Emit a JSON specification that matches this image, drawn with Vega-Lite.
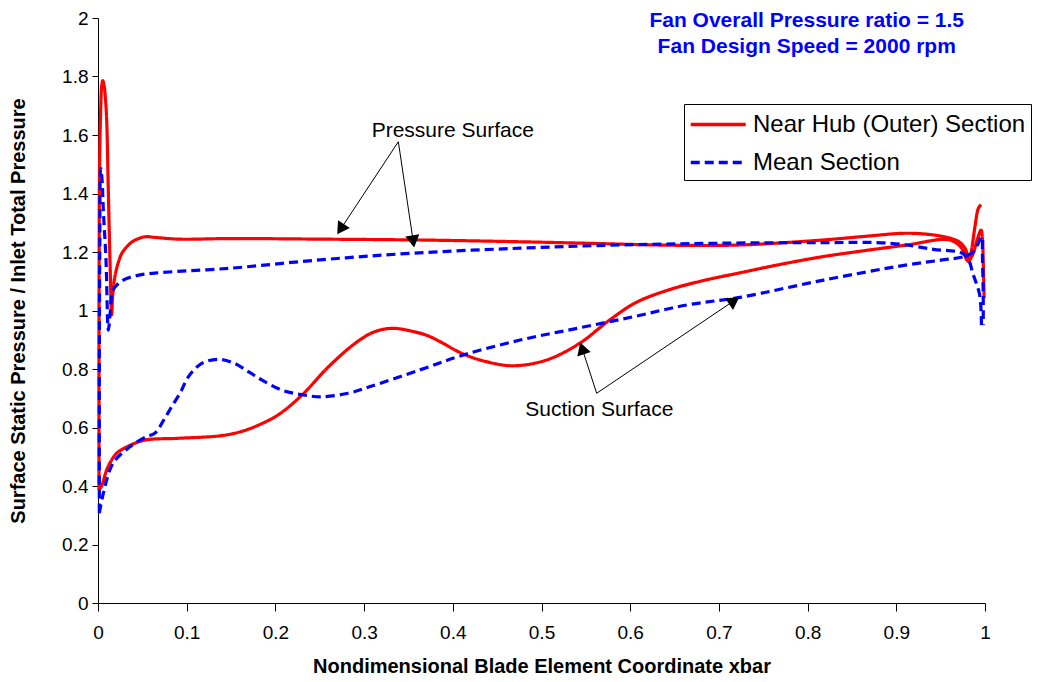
{
  "$schema": "https://vega.github.io/schema/vega-lite/v6.json",
  "width": 887,
  "height": 585,
  "autosize": {"type": "none"},
  "padding": {"left": 98, "top": 18, "right": 53, "bottom": 79},
  "background": "white",
  "config": {
    "view": {"stroke": null},
    "font": "Liberation Sans",
    "axis": {
      "grid": false,
      "domainColor": "#000000",
      "tickColor": "#000000",
      "labelColor": "#000000",
      "titleColor": "#000000",
      "labelFont": "Liberation Sans",
      "titleFont": "Liberation Sans",
      "labelFontSize": 19,
      "titleFontSize": 20,
      "titleFontWeight": "bold",
      "labelFlush": false,
      "labelOverlap": false,
      "labelBound": false
    }
  },
  "datasets": {
    "curves": [
      {"s": "Near Hub (Outer) Section", "f": "P", "i": 1, "x": 0.0011, "y": 0.386},
      {"s": "Near Hub (Outer) Section", "f": "P", "i": 2, "x": 0.0011, "y": 0.8},
      {"s": "Near Hub (Outer) Section", "f": "P", "i": 3, "x": 0.0013, "y": 1.2},
      {"s": "Near Hub (Outer) Section", "f": "P", "i": 4, "x": 0.0018, "y": 1.5},
      {"s": "Near Hub (Outer) Section", "f": "P", "i": 5, "x": 0.003, "y": 1.685},
      {"s": "Near Hub (Outer) Section", "f": "P", "i": 6, "x": 0.0042, "y": 1.77},
      {"s": "Near Hub (Outer) Section", "f": "P", "i": 7, "x": 0.0053, "y": 1.786},
      {"s": "Near Hub (Outer) Section", "f": "P", "i": 8, "x": 0.0068, "y": 1.77},
      {"s": "Near Hub (Outer) Section", "f": "P", "i": 9, "x": 0.0085, "y": 1.72},
      {"s": "Near Hub (Outer) Section", "f": "P", "i": 10, "x": 0.0098, "y": 1.65},
      {"s": "Near Hub (Outer) Section", "f": "P", "i": 11, "x": 0.0117, "y": 1.4},
      {"s": "Near Hub (Outer) Section", "f": "P", "i": 12, "x": 0.0135, "y": 1.173},
      {"s": "Near Hub (Outer) Section", "f": "P", "i": 13, "x": 0.0154, "y": 0.985},
      {"s": "Near Hub (Outer) Section", "f": "P", "i": 14, "x": 0.0165, "y": 1.05},
      {"s": "Near Hub (Outer) Section", "f": "P", "i": 15, "x": 0.019, "y": 1.116},
      {"s": "Near Hub (Outer) Section", "f": "P", "i": 16, "x": 0.023, "y": 1.165},
      {"s": "Near Hub (Outer) Section", "f": "P", "i": 17, "x": 0.027, "y": 1.196},
      {"s": "Near Hub (Outer) Section", "f": "P", "i": 18, "x": 0.035, "y": 1.226},
      {"s": "Near Hub (Outer) Section", "f": "P", "i": 19, "x": 0.042, "y": 1.241},
      {"s": "Near Hub (Outer) Section", "f": "P", "i": 20, "x": 0.053, "y": 1.252},
      {"s": "Near Hub (Outer) Section", "f": "P", "i": 21, "x": 0.064, "y": 1.25},
      {"s": "Near Hub (Outer) Section", "f": "P", "i": 22, "x": 0.09, "y": 1.244},
      {"s": "Near Hub (Outer) Section", "f": "P", "i": 23, "x": 0.15, "y": 1.246},
      {"s": "Near Hub (Outer) Section", "f": "P", "i": 24, "x": 0.25, "y": 1.244},
      {"s": "Near Hub (Outer) Section", "f": "P", "i": 25, "x": 0.363, "y": 1.241},
      {"s": "Near Hub (Outer) Section", "f": "P", "i": 26, "x": 0.476, "y": 1.235},
      {"s": "Near Hub (Outer) Section", "f": "P", "i": 27, "x": 0.55, "y": 1.23},
      {"s": "Near Hub (Outer) Section", "f": "P", "i": 28, "x": 0.65, "y": 1.223},
      {"s": "Near Hub (Outer) Section", "f": "P", "i": 29, "x": 0.724, "y": 1.224},
      {"s": "Near Hub (Outer) Section", "f": "P", "i": 30, "x": 0.817, "y": 1.241},
      {"s": "Near Hub (Outer) Section", "f": "P", "i": 31, "x": 0.87, "y": 1.255},
      {"s": "Near Hub (Outer) Section", "f": "P", "i": 32, "x": 0.908, "y": 1.264},
      {"s": "Near Hub (Outer) Section", "f": "P", "i": 33, "x": 0.93, "y": 1.262},
      {"s": "Near Hub (Outer) Section", "f": "P", "i": 34, "x": 0.949, "y": 1.255},
      {"s": "Near Hub (Outer) Section", "f": "P", "i": 35, "x": 0.965, "y": 1.243},
      {"s": "Near Hub (Outer) Section", "f": "P", "i": 36, "x": 0.972, "y": 1.232},
      {"s": "Near Hub (Outer) Section", "f": "P", "i": 37, "x": 0.978, "y": 1.21},
      {"s": "Near Hub (Outer) Section", "f": "P", "i": 38, "x": 0.982, "y": 1.175},
      {"s": "Near Hub (Outer) Section", "f": "P", "i": 39, "x": 0.986, "y": 1.19},
      {"s": "Near Hub (Outer) Section", "f": "P", "i": 40, "x": 0.991, "y": 1.24},
      {"s": "Near Hub (Outer) Section", "f": "P", "i": 41, "x": 0.9955, "y": 1.275},
      {"s": "Near Hub (Outer) Section", "f": "P", "i": 42, "x": 0.997, "y": 1.25},
      {"s": "Near Hub (Outer) Section", "f": "P", "i": 43, "x": 0.998, "y": 1.167},
      {"s": "Near Hub (Outer) Section", "f": "P", "i": 44, "x": 0.999, "y": 1.043},
      {"s": "Near Hub (Outer) Section", "f": "S", "i": 1, "x": 0.0011, "y": 0.386},
      {"s": "Near Hub (Outer) Section", "f": "S", "i": 2, "x": 0.004, "y": 0.4},
      {"s": "Near Hub (Outer) Section", "f": "S", "i": 3, "x": 0.0098, "y": 0.455},
      {"s": "Near Hub (Outer) Section", "f": "S", "i": 4, "x": 0.015, "y": 0.487},
      {"s": "Near Hub (Outer) Section", "f": "S", "i": 5, "x": 0.021, "y": 0.512},
      {"s": "Near Hub (Outer) Section", "f": "S", "i": 6, "x": 0.034, "y": 0.536},
      {"s": "Near Hub (Outer) Section", "f": "S", "i": 7, "x": 0.053, "y": 0.557},
      {"s": "Near Hub (Outer) Section", "f": "S", "i": 8, "x": 0.09, "y": 0.563},
      {"s": "Near Hub (Outer) Section", "f": "S", "i": 9, "x": 0.139, "y": 0.572},
      {"s": "Near Hub (Outer) Section", "f": "S", "i": 10, "x": 0.16, "y": 0.585},
      {"s": "Near Hub (Outer) Section", "f": "S", "i": 11, "x": 0.177, "y": 0.603},
      {"s": "Near Hub (Outer) Section", "f": "S", "i": 12, "x": 0.203, "y": 0.643},
      {"s": "Near Hub (Outer) Section", "f": "S", "i": 13, "x": 0.23, "y": 0.711},
      {"s": "Near Hub (Outer) Section", "f": "S", "i": 14, "x": 0.26, "y": 0.808},
      {"s": "Near Hub (Outer) Section", "f": "S", "i": 15, "x": 0.29, "y": 0.888},
      {"s": "Near Hub (Outer) Section", "f": "S", "i": 16, "x": 0.31, "y": 0.925},
      {"s": "Near Hub (Outer) Section", "f": "S", "i": 17, "x": 0.331, "y": 0.939},
      {"s": "Near Hub (Outer) Section", "f": "S", "i": 18, "x": 0.357, "y": 0.927},
      {"s": "Near Hub (Outer) Section", "f": "S", "i": 19, "x": 0.374, "y": 0.911},
      {"s": "Near Hub (Outer) Section", "f": "S", "i": 20, "x": 0.412, "y": 0.851},
      {"s": "Near Hub (Outer) Section", "f": "S", "i": 21, "x": 0.438, "y": 0.825},
      {"s": "Near Hub (Outer) Section", "f": "S", "i": 22, "x": 0.468, "y": 0.811},
      {"s": "Near Hub (Outer) Section", "f": "S", "i": 23, "x": 0.506, "y": 0.831},
      {"s": "Near Hub (Outer) Section", "f": "S", "i": 24, "x": 0.543, "y": 0.888},
      {"s": "Near Hub (Outer) Section", "f": "S", "i": 25, "x": 0.577, "y": 0.968},
      {"s": "Near Hub (Outer) Section", "f": "S", "i": 26, "x": 0.607, "y": 1.028},
      {"s": "Near Hub (Outer) Section", "f": "S", "i": 27, "x": 0.645, "y": 1.072},
      {"s": "Near Hub (Outer) Section", "f": "S", "i": 28, "x": 0.682, "y": 1.102},
      {"s": "Near Hub (Outer) Section", "f": "S", "i": 29, "x": 0.724, "y": 1.129},
      {"s": "Near Hub (Outer) Section", "f": "S", "i": 30, "x": 0.77, "y": 1.158},
      {"s": "Near Hub (Outer) Section", "f": "S", "i": 31, "x": 0.817, "y": 1.184},
      {"s": "Near Hub (Outer) Section", "f": "S", "i": 32, "x": 0.865, "y": 1.205},
      {"s": "Near Hub (Outer) Section", "f": "S", "i": 33, "x": 0.912, "y": 1.224},
      {"s": "Near Hub (Outer) Section", "f": "S", "i": 34, "x": 0.957, "y": 1.243},
      {"s": "Near Hub (Outer) Section", "f": "S", "i": 35, "x": 0.968, "y": 1.23},
      {"s": "Near Hub (Outer) Section", "f": "S", "i": 36, "x": 0.975, "y": 1.207},
      {"s": "Near Hub (Outer) Section", "f": "S", "i": 37, "x": 0.979, "y": 1.175},
      {"s": "Near Hub (Outer) Section", "f": "S", "i": 38, "x": 0.982, "y": 1.167},
      {"s": "Near Hub (Outer) Section", "f": "S", "i": 39, "x": 0.985, "y": 1.21},
      {"s": "Near Hub (Outer) Section", "f": "S", "i": 40, "x": 0.9887, "y": 1.287},
      {"s": "Near Hub (Outer) Section", "f": "S", "i": 41, "x": 0.9925, "y": 1.349},
      {"s": "Near Hub (Outer) Section", "f": "S", "i": 42, "x": 0.9955, "y": 1.362},
      {"s": "Mean Section", "f": "P", "i": 1, "x": 0.0015, "y": 0.31},
      {"s": "Mean Section", "f": "P", "i": 2, "x": 0.0015, "y": 0.8},
      {"s": "Mean Section", "f": "P", "i": 3, "x": 0.002, "y": 1.2},
      {"s": "Mean Section", "f": "P", "i": 4, "x": 0.003, "y": 1.486},
      {"s": "Mean Section", "f": "P", "i": 5, "x": 0.0045, "y": 1.45},
      {"s": "Mean Section", "f": "P", "i": 6, "x": 0.006, "y": 1.344},
      {"s": "Mean Section", "f": "P", "i": 7, "x": 0.009, "y": 1.173},
      {"s": "Mean Section", "f": "P", "i": 8, "x": 0.0117, "y": 0.933},
      {"s": "Mean Section", "f": "P", "i": 9, "x": 0.014, "y": 1.0},
      {"s": "Mean Section", "f": "P", "i": 10, "x": 0.017, "y": 1.07},
      {"s": "Mean Section", "f": "P", "i": 11, "x": 0.0285, "y": 1.104},
      {"s": "Mean Section", "f": "P", "i": 12, "x": 0.045, "y": 1.12},
      {"s": "Mean Section", "f": "P", "i": 13, "x": 0.064, "y": 1.128},
      {"s": "Mean Section", "f": "P", "i": 14, "x": 0.147, "y": 1.144},
      {"s": "Mean Section", "f": "P", "i": 15, "x": 0.25, "y": 1.173},
      {"s": "Mean Section", "f": "P", "i": 16, "x": 0.355, "y": 1.196},
      {"s": "Mean Section", "f": "P", "i": 17, "x": 0.476, "y": 1.213},
      {"s": "Mean Section", "f": "P", "i": 18, "x": 0.588, "y": 1.224},
      {"s": "Mean Section", "f": "P", "i": 19, "x": 0.701, "y": 1.23},
      {"s": "Mean Section", "f": "P", "i": 20, "x": 0.817, "y": 1.232},
      {"s": "Mean Section", "f": "P", "i": 21, "x": 0.893, "y": 1.23},
      {"s": "Mean Section", "f": "P", "i": 22, "x": 0.942, "y": 1.209},
      {"s": "Mean Section", "f": "P", "i": 23, "x": 0.9775, "y": 1.19},
      {"s": "Mean Section", "f": "P", "i": 24, "x": 0.987, "y": 1.12},
      {"s": "Mean Section", "f": "P", "i": 25, "x": 0.994, "y": 1.053},
      {"s": "Mean Section", "f": "P", "i": 26, "x": 0.996, "y": 0.95},
      {"s": "Mean Section", "f": "S", "i": 1, "x": 0.0015, "y": 0.307},
      {"s": "Mean Section", "f": "S", "i": 2, "x": 0.006, "y": 0.375},
      {"s": "Mean Section", "f": "S", "i": 3, "x": 0.017, "y": 0.478},
      {"s": "Mean Section", "f": "S", "i": 4, "x": 0.036, "y": 0.534},
      {"s": "Mean Section", "f": "S", "i": 5, "x": 0.055, "y": 0.569},
      {"s": "Mean Section", "f": "S", "i": 6, "x": 0.064, "y": 0.58},
      {"s": "Mean Section", "f": "S", "i": 7, "x": 0.075, "y": 0.63},
      {"s": "Mean Section", "f": "S", "i": 8, "x": 0.083, "y": 0.671},
      {"s": "Mean Section", "f": "S", "i": 9, "x": 0.093, "y": 0.72},
      {"s": "Mean Section", "f": "S", "i": 10, "x": 0.102, "y": 0.774},
      {"s": "Mean Section", "f": "S", "i": 11, "x": 0.117, "y": 0.819},
      {"s": "Mean Section", "f": "S", "i": 12, "x": 0.136, "y": 0.833},
      {"s": "Mean Section", "f": "S", "i": 13, "x": 0.154, "y": 0.819},
      {"s": "Mean Section", "f": "S", "i": 14, "x": 0.17, "y": 0.79},
      {"s": "Mean Section", "f": "S", "i": 15, "x": 0.185, "y": 0.762},
      {"s": "Mean Section", "f": "S", "i": 16, "x": 0.207, "y": 0.728},
      {"s": "Mean Section", "f": "S", "i": 17, "x": 0.23, "y": 0.712},
      {"s": "Mean Section", "f": "S", "i": 18, "x": 0.252, "y": 0.705},
      {"s": "Mean Section", "f": "S", "i": 19, "x": 0.282, "y": 0.717},
      {"s": "Mean Section", "f": "S", "i": 20, "x": 0.307, "y": 0.74},
      {"s": "Mean Section", "f": "S", "i": 21, "x": 0.363, "y": 0.797},
      {"s": "Mean Section", "f": "S", "i": 22, "x": 0.412, "y": 0.848},
      {"s": "Mean Section", "f": "S", "i": 23, "x": 0.476, "y": 0.899},
      {"s": "Mean Section", "f": "S", "i": 24, "x": 0.54, "y": 0.939},
      {"s": "Mean Section", "f": "S", "i": 25, "x": 0.604, "y": 0.979},
      {"s": "Mean Section", "f": "S", "i": 26, "x": 0.664, "y": 1.019},
      {"s": "Mean Section", "f": "S", "i": 27, "x": 0.724, "y": 1.045},
      {"s": "Mean Section", "f": "S", "i": 28, "x": 0.818, "y": 1.104},
      {"s": "Mean Section", "f": "S", "i": 29, "x": 0.912, "y": 1.156},
      {"s": "Mean Section", "f": "S", "i": 30, "x": 0.95, "y": 1.172},
      {"s": "Mean Section", "f": "S", "i": 31, "x": 0.976, "y": 1.184},
      {"s": "Mean Section", "f": "S", "i": 32, "x": 0.987, "y": 1.201},
      {"s": "Mean Section", "f": "S", "i": 33, "x": 0.9965, "y": 1.252},
      {"s": "Mean Section", "f": "S", "i": 34, "x": 0.997, "y": 1.2},
      {"s": "Mean Section", "f": "S", "i": 35, "x": 0.998, "y": 1.05},
      {"s": "Mean Section", "f": "S", "i": 36, "x": 0.998, "y": 0.95}
    ],
    "arrows": [
      {"a": "p1", "x": 0.3386, "y": 1.577, "x2": 0.2735, "y2": 1.278},
      {"a": "p2", "x": 0.3386, "y": 1.577, "x2": 0.3554, "y2": 1.236},
      {"a": "s1", "x": 0.5622, "y": 0.717, "x2": 0.5458, "y2": 0.8705},
      {"a": "s2", "x": 0.5622, "y": 0.717, "x2": 0.7172, "y2": 1.0338}
    ],
    "notes": [
      {"t": "Pressure Surface", "x": 0.4, "y": 1.592},
      {"t": "Suction Surface", "x": 0.5652, "y": 0.639}
    ],
    "heading": [
      {"t": "Fan Overall Pressure ratio = 1.5", "x": 0.799, "y": 1.969},
      {"t": "Fan Design Speed = 2000 rpm", "x": 0.799, "y": 1.879}
    ]
  },
  "layer": [
    {
      "data": {"name": "curves"},
      "mark": {"type": "line", "interpolate": "catmull-rom", "strokeWidth": 3.2, "strokeJoin": "round"},
      "encoding": {
        "x": {
          "field": "x", "type": "quantitative",
          "scale": {"domain": [0, 1], "nice": false, "zero": false},
          "axis": {
            "values": [0, 0.1, 0.2, 0.3, 0.4, 0.5, 0.6, 0.7, 0.8, 0.9, 1],
            "format": "~g",
            "title": "Nondimensional Blade Element Coordinate xbar",
            "tickSize": 8,
            "labelPadding": 12,
            "titlePadding": 14
          }
        },
        "y": {
          "field": "y", "type": "quantitative",
          "scale": {"domain": [0, 2], "nice": false},
          "axis": {
            "values": [0, 0.2, 0.4, 0.6, 0.8, 1, 1.2, 1.4, 1.6, 1.8, 2],
            "format": "~g",
            "title": "Surface Static Pressure / Inlet Total Pressure",
            "tickSize": 6,
            "labelPadding": 4,
            "titlePadding": 33
          }
        },
        "color": {
          "field": "s", "type": "nominal",
          "scale": {"domain": ["Near Hub (Outer) Section", "Mean Section"], "range": ["#FF0000", "#0000FF"]},
          "legend": {
            "title": null, "orient": "none", "legendX": 586, "legendY": 86,
            "strokeColor": "#000000", "fillColor": "#FFFFFF", "padding": 5,
            "labelFontSize": 24, "labelFont": "Liberation Sans", "labelColor": "#000000",
            "symbolType": "M-1,0H3", "symbolSize": 756, "symbolStrokeWidth": 3.5,
            "labelOffset": 33, "rowPadding": 10, "labelLimit": 400
          }
        },
        "strokeDash": {
          "field": "s", "type": "nominal",
          "scale": {"domain": ["Near Hub (Outer) Section", "Mean Section"], "range": [[1, 0], [9, 5]]},
          "legend": {
            "title": null, "orient": "none", "legendX": 586, "legendY": 86,
            "strokeColor": "#000000", "fillColor": "#FFFFFF", "padding": 5,
            "labelFontSize": 24, "labelFont": "Liberation Sans", "labelColor": "#000000",
            "symbolType": "M-1,0H3", "symbolSize": 756, "symbolStrokeWidth": 3.5,
            "labelOffset": 33, "rowPadding": 10, "labelLimit": 400
          }
        },
        "detail": {"field": "f"},
        "order": {"field": "i", "type": "quantitative"}
      }
    },
    {
      "data": {"name": "arrows"},
      "mark": {"type": "rule", "color": "#000000", "strokeWidth": 1},
      "encoding": {
        "x": {"field": "x", "type": "quantitative"},
        "y": {"field": "y", "type": "quantitative"},
        "x2": {"field": "x2"},
        "y2": {"field": "y2"}
      }
    },
    {
      "data": {"name": "arrows"},
      "mark": {"type": "point", "shape": "triangle-up", "filled": true, "color": "#000000", "size": 200, "opacity": 1},
      "encoding": {
        "x": {"field": "x2", "type": "quantitative"},
        "y": {"field": "y2", "type": "quantitative"},
        "angle": {
          "field": "a", "type": "nominal",
          "scale": {"type": "ordinal", "domain": ["p1", "p2", "s1", "s2"], "range": [213.4, 171.5, 342.1, 56]},
          "legend": null
        }
      }
    },
    {
      "data": {"name": "notes"},
      "mark": {"type": "text", "font": "Liberation Sans", "fontSize": 21, "color": "#000000", "align": "center", "baseline": "alphabetic"},
      "encoding": {
        "x": {"field": "x", "type": "quantitative"},
        "y": {"field": "y", "type": "quantitative"},
        "text": {"field": "t"}
      }
    },
    {
      "data": {"name": "heading"},
      "mark": {"type": "text", "font": "Liberation Sans", "fontSize": 21, "fontWeight": "bold", "color": "#0000FF", "align": "center", "baseline": "alphabetic"},
      "encoding": {
        "x": {"field": "x", "type": "quantitative"},
        "y": {"field": "y", "type": "quantitative"},
        "text": {"field": "t"}
      }
    }
  ]
}
